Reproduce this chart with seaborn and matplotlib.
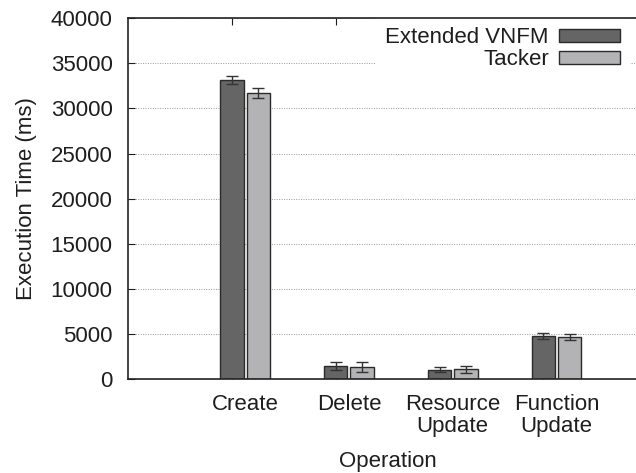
import matplotlib
matplotlib.use("Agg")
import matplotlib.pyplot as plt
from matplotlib.patches import Patch
import seaborn as sns
import pandas as pd

operations = ["Create", "Delete", "Resource\nUpdate", "Function\nUpdate"]
series_names = ["Extended VNFM", "Tacker"]
vnfm_ms = [33200, 1450, 1030, 4770]
tacker_ms = [31750, 1290, 1070, 4660]
vnfm_err = [440, 480, 300, 330]
tacker_err = [540, 550, 350, 350]
y_ticks = [0, 5000, 10000, 15000, 20000, 25000, 30000, 35000, 40000]

colors = ["#656565", "#b3b3b5"]
edge = "#2a2a2a"
text_color = "#1e1e1e"

df = pd.DataFrame({
    "Operation": operations * 2,
    "System": [series_names[0]] * len(operations) + [series_names[1]] * len(operations),
    "Time": vnfm_ms + tacker_ms,
})

sns.set_style("white")
plt.rcParams["font.family"] = ["Liberation Sans", "DejaVu Sans"]
plt.rcParams["text.color"] = text_color
plt.rcParams["axes.labelcolor"] = text_color
plt.rcParams["xtick.color"] = text_color
plt.rcParams["ytick.color"] = text_color

fig = plt.figure(figsize=(6.36, 4.73), dpi=100)
W, H = 636, 473
left, right, top, bottom = 128, 647, 18.3, 379
ax = fig.add_axes([left / W, (H - bottom) / H, (right - left) / W, (bottom - top) / H])

sns.barplot(data=df, x="Operation", y="Time", hue="System", order=operations,
            hue_order=series_names, palette=colors, width=0.507, gap=0.11,
            errorbar=None, edgecolor=edge, linewidth=1.0, ax=ax, zorder=2)

for cont, errs in zip(ax.containers, [vnfm_err, tacker_err]):
    xs = [b.get_x() + b.get_width() / 2 for b in cont]
    ys = [b.get_height() for b in cont]
    ax.errorbar(xs, ys, yerr=errs, fmt="none", ecolor="#333333",
                elinewidth=1.0, capsize=4, capthick=1.0, zorder=3)

ax.set_xlim(-1.128, 3.872)
ax.set_ylim(0, 40000)
ax.set_yticks(y_ticks)
ax.set_yticklabels([str(v) for v in y_ticks])
ax.set_axisbelow(True)
ax.yaxis.grid(True, linestyle=(0, (1, 1.5)), color="#999999", linewidth=0.7)
ax.xaxis.grid(False)

for s in ax.spines.values():
    s.set_color("#222222")
    s.set_linewidth(1.2)

ax.tick_params(axis="y", direction="in", length=5, width=0.8, pad=11,
               labelsize=16, left=True, right=True)
ax.tick_params(axis="x", which="major", length=0, pad=11, labelsize=16)
dark_centers = [b.get_x() + b.get_width() / 2 for b in ax.containers[0]]
ax.set_xticks(dark_centers, minor=True)
ax.tick_params(axis="x", which="minor", direction="in", length=5, width=0.8,
               top=True, bottom=True)
for lab in ax.get_xticklabels():
    lab.set_linespacing(1.05)

ax.set_xlabel("Operation", fontsize=16, labelpad=10)
ax.set_ylabel("Execution Time (ms)", fontsize=16, labelpad=10)

handles = [Patch(facecolor=c, edgecolor=edge, linewidth=1.0) for c in colors]
leg = ax.legend(handles, series_names, loc="upper right",
                bbox_to_anchor=(630 / W, 1 - 17 / H), bbox_transform=fig.transFigure,
                borderaxespad=0, borderpad=0.45, frameon=True, fancybox=False,
                facecolor="white", edgecolor="none", framealpha=1.0,
                markerfirst=False, handlelength=2.75, handleheight=0.53,
                handletextpad=0.45, labelspacing=0.05, fontsize=16)
leg.set_zorder(2.2)
for t in leg.get_texts():
    t.set_ha("right")

fig.savefig("out.png", dpi=100)
